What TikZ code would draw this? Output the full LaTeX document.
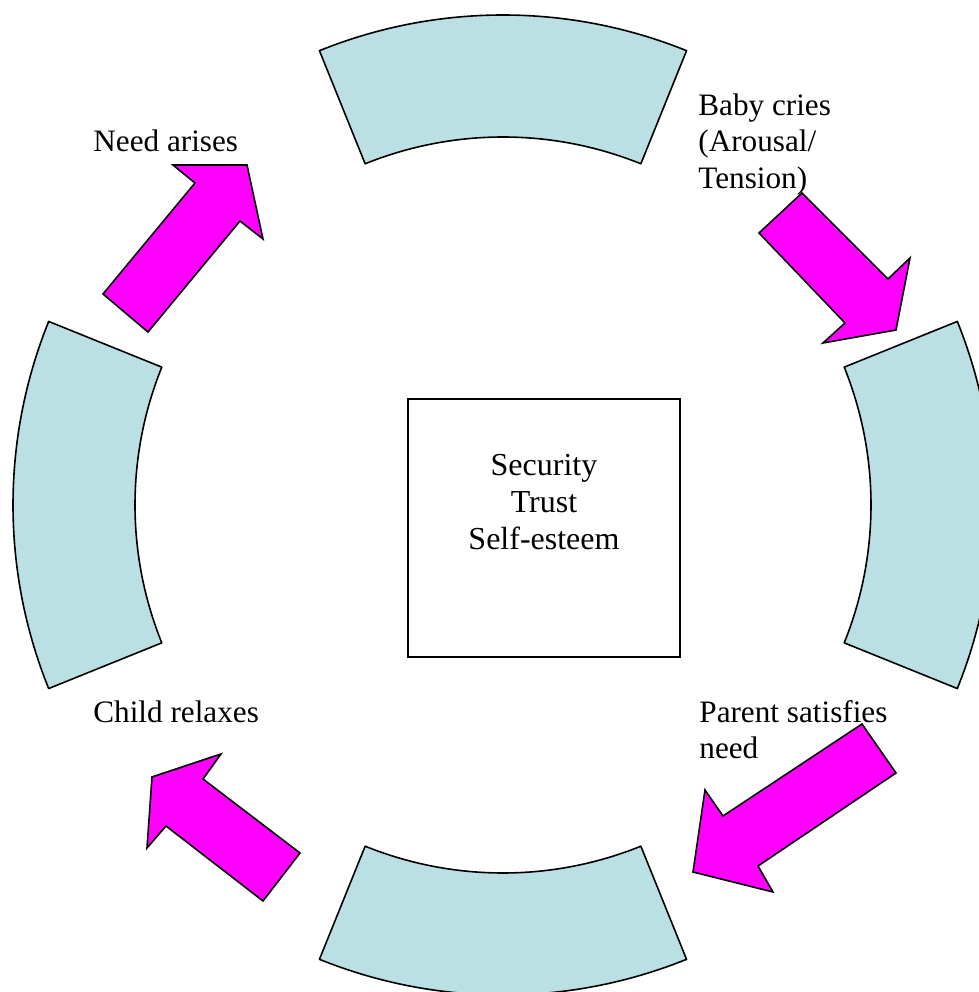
\documentclass[tikz,border=0pt]{standalone}
\usepackage{fontspec}
\setmainfont{Liberation Serif}
\usepackage{tikz}
\usetikzlibrary{positioning}

\definecolor{ringblue}{RGB}{187,224,227}
\definecolor{pushpink}{RGB}{255,0,255}

\begin{document}
\begin{tikzpicture}[x=0.5pt,y=0.5pt,
sector/.style={draw, fill=ringblue, line width=0.8pt, line join=round},
blockarrow/.style={draw, fill=pushpink, line width=0.8pt, line join=miter},
tag/.style={font=\fontsize{15.6}{18.3}\selectfont},
every node/.style={font=\fontsize{16}{18.5}\selectfont, inner sep=0pt}]
\useasboundingbox (0,0) rectangle (979,992);
\clip (0,0) rectangle (979,992);
% the four pieces of the ring
\begin{scope}[shift={(503,487)}]
\foreach \a in {0,90,180,270}
  \draw[sector] (\a-22:490) arc[start angle=\a-22, end angle=\a+22, radius=490]
    -- (\a+22:368) arc[start angle=\a+22, end angle=\a-22, radius=368] -- cycle;
\end{scope}
\node (core) at (544,464) [draw, line width=0.9pt, minimum width=136pt, minimum height=129pt] {};
\node (values) at (544,538) [anchor=north, align=center] {Security\\Trust\\Self-esteem};
\node (arises) at (93,840) [tag, anchor=base west] {Need arises};
\node (cries) at (698,899) [tag, anchor=north west, align=left] {Baby cries\\(Arousal/\\Tension)};
\node (satisfies) at (699,292) [tag, anchor=north west, align=left] {Parent satisfies\\need};
\node (relaxes) at (93,269) [tag, anchor=base west] {Child relaxes};
% block arrows
\draw[blockarrow] (103,698) -- (195,809) -- (173,827) -- (247,827) -- (263,753) -- (240,771) -- (148,660) -- cycle;
\draw[blockarrow] (802,799) -- (888,713) -- (910,734) -- (896,662) -- (823,649) -- (845,669) -- (759,759) -- cycle;
\draw[blockarrow] (862,268) -- (896,219) -- (758,126) -- (773,100) -- (693,120) -- (705,202) -- (723,176) -- cycle;
\draw[blockarrow] (221,238) -- (203,213) -- (300,139) -- (263,91) -- (166,166) -- (147,144) -- (152,215) -- cycle;
\end{tikzpicture}
\end{document}
